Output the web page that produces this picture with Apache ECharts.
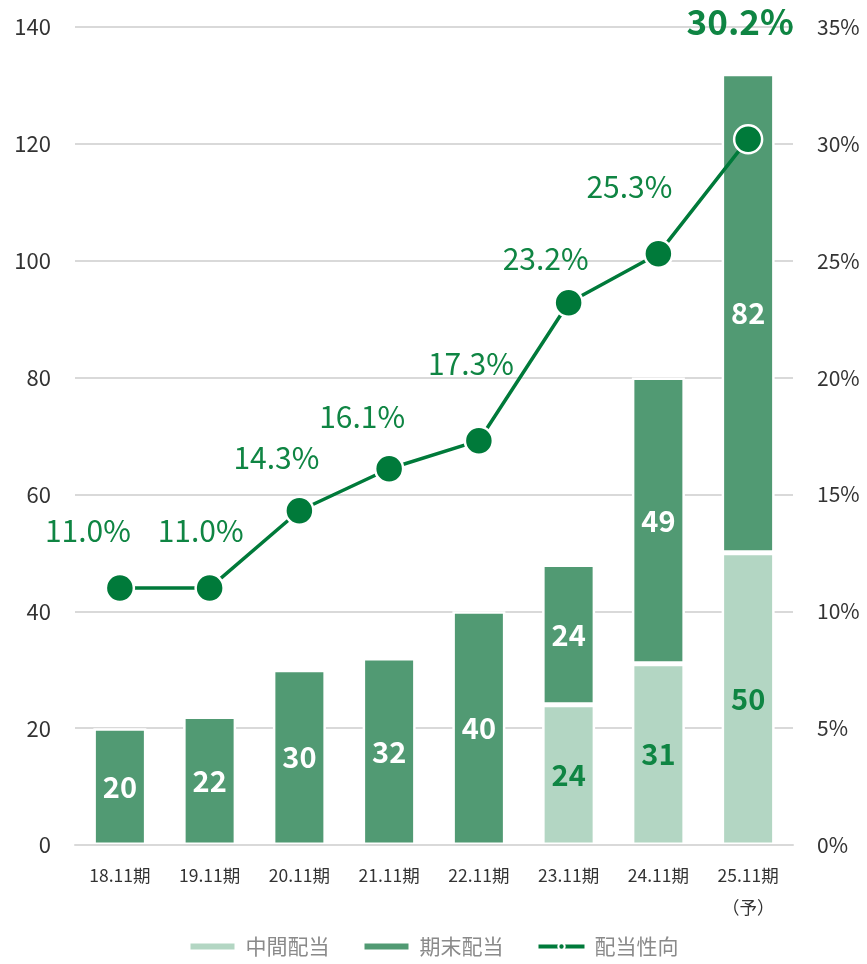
<!DOCTYPE html>
<html><head><meta charset="utf-8">
<script src="https://cdn.jsdelivr.net/npm/echarts@6/dist/echarts.min.js"></script>
<style>html,body{margin:0;padding:0;background:#fff}#c{width:867px;height:964px}</style>
</head><body><div id="c"></div>
<script>
const categories = ['18.11期','19.11期','20.11期','21.11期','22.11期','23.11期','24.11期','25.11期\n（予）'];
const interimDiv = [null, null, null, null, null, 24, 31, 50];
const finalDiv = [20, 22, 30, 32, 40, 24, 49, 82];
const payoutRatio = [11.0, 11.0, 14.3, 16.1, 17.3, 23.2, 25.3, 30.2];
const leftTicks = [0, 140, 20];
const rightTicks = [0, 35, 5];

const FONT = '"Noto Sans CJK JP", "Noto Sans", sans-serif';
const LIGHT = '#b3d6c3', DARK = '#519a73', LINE = '#007a3a', TXT = '#0f8543';
const labelOffsets = [[-32,-57],[-9,-57],[-23,-53],[-27,-52],[-8,-77],[-23,-44],[-29,-67],[-8,-117]];

const lineData = payoutRatio.map((v, i) => {
  const last = i === payoutRatio.length - 1;
  return {
    value: v,
    label: {
      offset: labelOffsets[i],
      fontSize: last ? 35 : 30,
      fontWeight: last ? 'bold' : 'normal'
    }
  };
});

const chart = echarts.init(document.getElementById('c'), null, {renderer: 'canvas'});
chart.setOption({
  animation: false,
  textStyle: {fontFamily: FONT},
  grid: {left: 75, right: 74, top: 27, bottom: 119, containLabel: false},
  legend: {
    bottom: 2, left: 'center', itemGap: 33, itemWidth: 46, itemHeight: 8,
    textStyle: {fontSize: 21, color: '#8a8a8a', fontFamily: FONT, padding: [0, 0, 0, 5]},
    data: [
      {name: '中間配当', icon: 'rect'},
      {name: '期末配当', icon: 'rect'},
      {name: '配当性向', lineStyle: {width: 4}}
    ]
  },
  xAxis: {
    type: 'category', data: categories, z: 5,
    axisLine: {lineStyle: {color: '#d9d9d9', width: 2}},
    axisTick: {show: false},
    axisLabel: {fontSize: 17.5, color: '#333', margin: 14, lineHeight: 32, fontFamily: FONT}
  },
  yAxis: [{
    type: 'value', min: leftTicks[0], max: leftTicks[1], interval: leftTicks[2],
    axisLabel: {fontSize: 22, color: '#333', margin: 24, fontFamily: FONT},
    splitLine: {lineStyle: {color: '#d9d9d9', width: 2}},
    axisLine: {show: false}, axisTick: {show: false}
  }, {
    type: 'value', min: rightTicks[0], max: rightTicks[1], interval: rightTicks[2],
    axisLabel: {fontSize: 21, color: '#333', margin: 24, formatter: '{value}%', fontFamily: FONT},
    splitLine: {show: false}, axisLine: {show: false}, axisTick: {show: false}
  }],
  series: [{
    name: '中間配当', type: 'bar', stack: 'd', barWidth: 53, data: interimDiv,
    itemStyle: {color: LIGHT, borderColor: '#fff', borderWidth: 2.5},
    label: {show: true, position: 'inside', color: TXT, fontSize: 29, fontWeight: 'bold', fontFamily: FONT}
  }, {
    name: '期末配当', type: 'bar', stack: 'd', barWidth: 53, data: finalDiv,
    itemStyle: {color: DARK, borderColor: '#fff', borderWidth: 2.5},
    label: {show: true, position: 'inside', color: '#fff', fontSize: 29, fontWeight: 'bold', fontFamily: FONT}
  }, {
    name: '配当性向', type: 'line', yAxisIndex: 1, data: lineData, z: 10,
    symbol: 'circle', symbolSize: 28,
    lineStyle: {color: LINE, width: 3.5},
    itemStyle: {color: LINE, borderColor: '#fff', borderWidth: 2.5},
    label: {show: true, position: 'inside', color: TXT, fontFamily: FONT,
      formatter: p => p.value.toFixed(1) + '%'}
  }]
});
</script></body></html>
